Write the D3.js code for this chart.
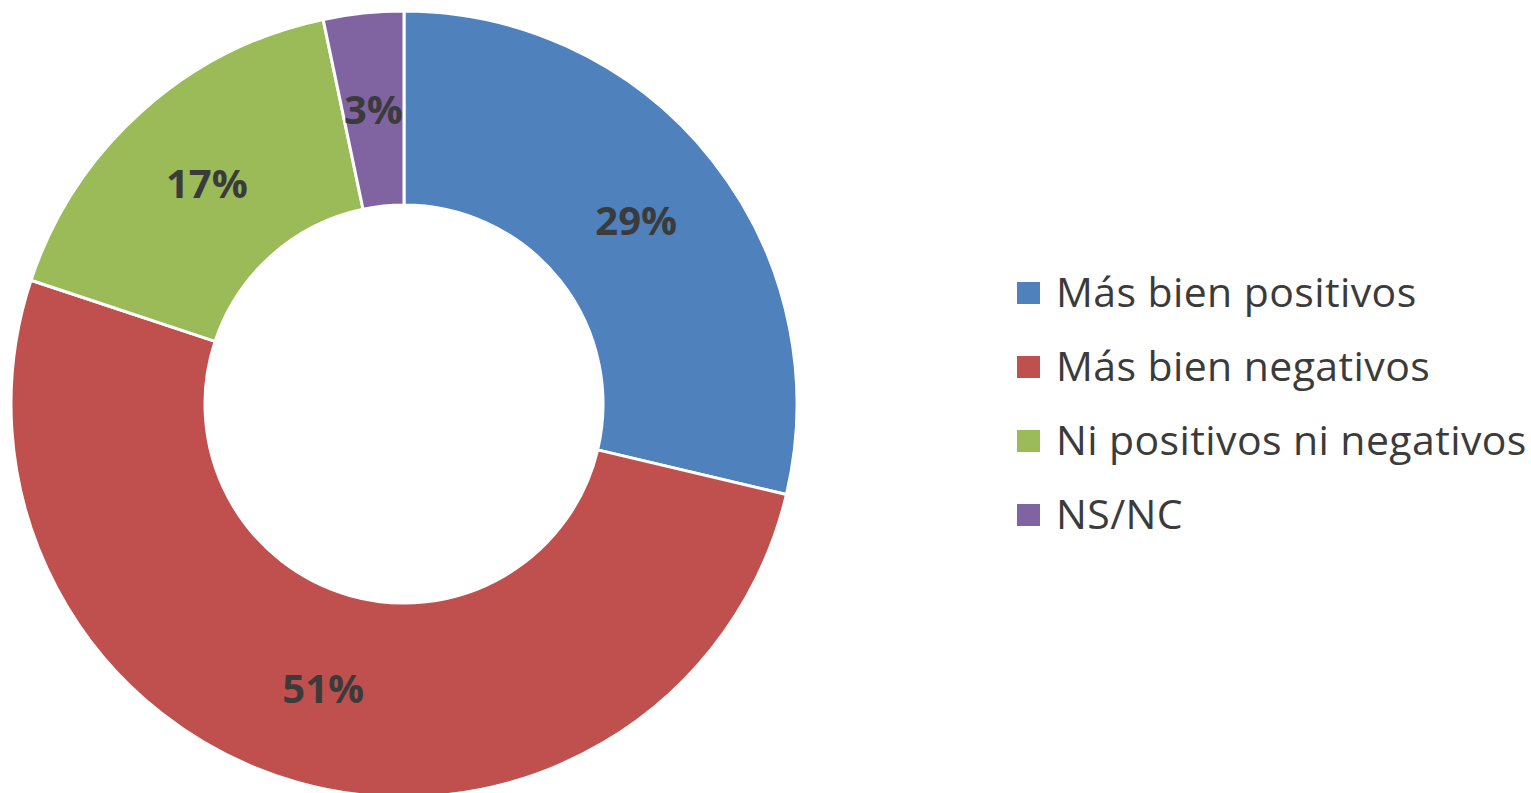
<!DOCTYPE html>
<html lang="es">
  <head>
    <meta charset="utf-8">
    <title>Donut chart</title>
    <script src="https://d3js.org/d3.v7.min.js"></script>
    <style>
      body { margin: 0; background: #fff; }
      svg { display: block; }
    </style>
  </head>
  <body>
    <div id="main"></div>
    <script>
      var categories = ["Más bien positivos", "Más bien negativos", "Ni positivos ni negativos", "NS/NC"];
      var values = [28.7, 51.4, 16.6, 3.3];
      var colors = ["#4F81BD", "#C0504D", "#9BBB59", "#8064A2"];

      var width = 1531, height = 793;
      var cx = 404, cy = 404, outerR = 393, innerR = 199;

      var svg = d3.select("#main").append("svg")
        .attr("width", width)
        .attr("height", height);

      var pie = d3.pie().sort(null).value(function(d) { return d; });
      var arc = d3.arc().innerRadius(innerR).outerRadius(outerR);
      var arcs = pie(values);

      var g = svg.append("g").attr("transform", "translate(" + cx + "," + cy + ")");
      g.selectAll("path").data(arcs).enter().append("path")
        .attr("d", arc)
        .attr("fill", function(d, i) { return colors[i]; })
        .attr("stroke", "#fff")
        .attr("stroke-width", 3)
        .attr("stroke-linejoin", "round");//slices

      g.selectAll("text").data(arcs).enter().append("text")
        .attr("transform", function(d) { return "translate(" + arc.centroid(d) + ")"; })
        .attr("text-anchor", "middle")
        .attr("dy", "0.36em")
        .style("font-family", "'Open Sans', sans-serif")
        .style("font-weight", "bold")
        .style("font-size", "40px")
        .style("fill", "#3b3b3b")
        .text(function(d) { return Math.round(d.value) + "%"; });//slice labels

      var legend = svg.append("g").attr("transform", "translate(1017, 282)");
      var row = legend.selectAll("g").data(categories).enter().append("g")
        .attr("transform", function(d, i) { return "translate(0," + (i * 74) + ")"; });
      row.append("rect")
        .attr("width", 23)
        .attr("height", 22)
        .attr("fill", function(d, i) { return colors[i]; });
      row.append("text")
        .attr("x", 39)
        .attr("y", 25)
        .style("font-family", "'Open Sans', sans-serif")
        .style("font-size", "41px")
        .style("letter-spacing", "0.4px")
        .style("fill", "#3b3b3b")
        .text(function(d) { return d; });
    </script>
  </body>
</html>
